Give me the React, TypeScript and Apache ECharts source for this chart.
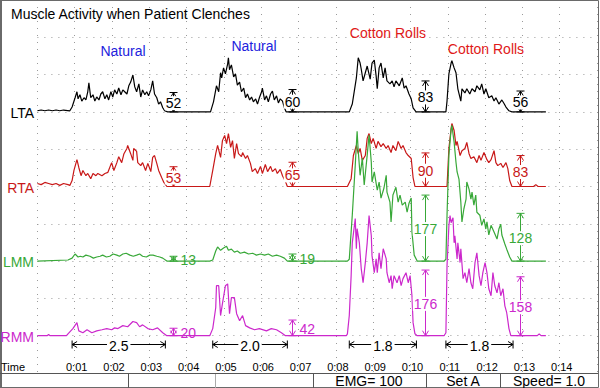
import React, { useEffect, useRef } from 'react';
import * as echarts from 'echarts';

const FONT = '"Liberation Sans", Arial, Helvetica, sans-serif';

// ---- channels ----
const channelNames = ['LTA', 'RTA', 'LMM', 'RMM'];
const channelColors = ['#000000', '#c81818', '#38a838', '#cc28cc'];
// baseline of each trace, in grid divisions counted from the bottom (1 division = 100 µV)
const channelBaseDiv = [7, 5, 3, 1];

// ---- time axis tick labels (seconds 1..14) ----
const timeTickLabels = ['0:01', '0:02', '0:03', '0:04', '0:05', '0:06', '0:07', '0:08', '0:09', '0:10', '0:11', '0:12', '0:13', '0:14'];

// ---- traces: [time s, amplitude µV] ----
const lta: number[][] = [
  [0, 3], [0.1, 5], [0.2, 3], [0.3, 5], [0.4, 3], [0.5, 5], [0.6, 3], [0.7, 5], [0.87, 3],
  [0.93, 13], [1.01, 38], [1.06, 54], [1.09, 35], [1.14, 46], [1.19, 29], [1.25, 38], [1.30, 32], [1.35, 54], [1.38, 78], [1.43, 38], [1.49, 46], [1.54, 29], [1.59, 40], [1.65, 32], [1.70, 48], [1.75, 54], [1.81, 35], [1.86, 46], [1.91, 32], [1.97, 54], [2.02, 40], [2.07, 59], [2.13, 48], [2.18, 64], [2.24, 46], [2.29, 59], [2.34, 54], [2.40, 48], [2.45, 70], [2.50, 80], [2.56, 99], [2.61, 67], [2.66, 54], [2.72, 75], [2.77, 40], [2.82, 59], [2.88, 46], [2.93, 54], [2.98, 43], [3.04, 59], [3.09, 83], [3.14, 48], [3.20, 38], [3.25, 21], [3.30, 27], [3.36, 11], [3.41, 3], [3.49, 0],
  [4.64, 0], [4.72, 27], [4.80, 70], [4.86, 54], [4.91, 105], [4.94, 91], [4.99, 118], [5.04, 102], [5.10, 129], [5.12, 145], [5.15, 113], [5.20, 126], [5.26, 94], [5.31, 102], [5.36, 72], [5.42, 80], [5.47, 54], [5.53, 64], [5.58, 38], [5.63, 48], [5.69, 32], [5.74, 40], [5.79, 27], [5.85, 35], [5.90, 21], [5.95, 38], [6.01, 54], [6.03, 64], [6.09, 32], [6.14, 43], [6.19, 27], [6.25, 48], [6.30, 56], [6.35, 32], [6.41, 43], [6.46, 24], [6.51, 35], [6.57, 29], [6.62, 11], [6.67, 0],
  [8.36, 0], [8.44, 21], [8.55, 91], [8.60, 145], [8.65, 131], [8.68, 115], [8.73, 83], [8.79, 105], [8.84, 123], [8.92, 88], [8.97, 131], [9.03, 139], [9.08, 96], [9.11, 62], [9.16, 118], [9.21, 131], [9.27, 91], [9.32, 118], [9.37, 83], [9.45, 75], [9.51, 83], [9.56, 67], [9.61, 83], [9.70, 70], [9.78, 91], [9.83, 64], [9.88, 70], [9.96, 48], [10.02, 35], [10.07, 11], [10.15, 0],
  [10.95, 0], [10.98, 29], [11.03, 102], [11.09, 131], [11.11, 137], [11.17, 118], [11.22, 105], [11.27, 62], [11.35, 29], [11.38, 62], [11.46, 51], [11.51, 62], [11.59, 48], [11.65, 62], [11.73, 54], [11.78, 70], [11.86, 59], [11.91, 75], [11.97, 48], [12.02, 62], [12.10, 38], [12.18, 43], [12.24, 29], [12.29, 38], [12.37, 21], [12.45, 32], [12.50, 24], [12.56, 13], [12.64, 3], [12.72, 0], [13.63, 0],
];

const rta: number[][] = [
  [0, 8], [0.1, 5], [0.2, 11], [0.3, 8], [0.4, 5], [0.5, 8], [0.6, 3], [0.7, 8], [0.82, 5],
  [0.87, 3], [0.93, 16], [0.98, 43], [1.06, 72], [1.11, 51], [1.17, 29], [1.22, 43], [1.30, 29], [1.35, 35], [1.43, 21], [1.49, 35], [1.57, 29], [1.62, 35], [1.73, 29], [1.81, 35], [1.89, 38], [1.99, 64], [2.05, 43], [2.13, 64], [2.18, 80], [2.26, 64], [2.32, 88], [2.40, 102], [2.42, 110], [2.50, 88], [2.56, 70], [2.58, 102], [2.66, 94], [2.69, 64], [2.77, 56], [2.82, 64], [2.90, 43], [2.96, 62], [3.04, 40], [3.09, 78], [3.14, 83], [3.20, 62], [3.25, 43], [3.33, 24], [3.39, 11], [3.47, 0],
  [4.62, 0], [4.70, 43], [4.78, 88], [4.83, 110], [4.91, 78], [4.96, 123], [5.02, 137], [5.07, 115], [5.12, 142], [5.18, 105], [5.23, 123], [5.28, 75], [5.34, 115], [5.39, 88], [5.47, 80], [5.50, 91], [5.58, 75], [5.63, 83], [5.71, 62], [5.76, 40], [5.84, 48], [5.90, 35], [5.98, 54], [6.03, 35], [6.11, 59], [6.17, 40], [6.25, 54], [6.30, 40], [6.38, 48], [6.43, 35], [6.51, 46], [6.57, 29], [6.65, 13], [6.70, 0],
  [8.31, 0], [8.41, 21], [8.47, 83], [8.55, 110], [8.60, 88], [8.65, 102], [8.71, 70], [8.79, 83], [8.84, 129], [8.89, 142], [8.95, 115], [9.00, 129], [9.08, 102], [9.13, 121], [9.21, 107], [9.27, 115], [9.35, 102], [9.40, 110], [9.48, 91], [9.53, 110], [9.61, 96], [9.67, 121], [9.75, 102], [9.80, 110], [9.88, 91], [9.94, 83], [10.02, 75], [10.07, 24], [10.12, 0],
  [10.98, 0], [11.03, 102], [11.09, 155], [11.11, 169], [11.17, 150], [11.22, 110], [11.25, 121], [11.33, 83], [11.38, 96], [11.46, 102], [11.51, 118], [11.57, 88], [11.62, 75], [11.70, 80], [11.78, 64], [11.84, 83], [11.89, 70], [11.97, 91], [12.05, 72], [12.10, 64], [12.16, 72], [12.24, 96], [12.29, 64], [12.34, 56], [12.42, 62], [12.48, 51], [12.56, 64], [12.61, 48], [12.66, 16], [12.72, 0], [13.30, 0], [13.36, 5], [13.42, 0], [13.63, 0],
];

const lmm: number[][] = [
  [0, 0], [0.82, 3], [0.93, 8], [1.01, 19], [1.09, 11], [1.15, 13], [1.22, 11], [1.30, 16], [1.41, 13], [1.50, 8], [1.59, 11], [1.68, 13], [1.75, 16], [1.85, 11], [1.94, 13], [2.03, 19], [2.13, 16], [2.20, 13], [2.29, 19], [2.38, 21], [2.48, 16], [2.57, 13], [2.66, 16], [2.74, 19], [2.82, 13], [2.92, 11], [3.01, 16], [3.10, 16], [3.20, 13], [3.28, 11], [3.36, 8], [3.47, 0],
  [4.62, 0], [4.70, 3], [4.78, 27], [4.83, 38], [4.91, 29], [4.99, 35], [5.07, 40], [5.12, 29], [5.20, 32], [5.28, 24], [5.36, 27], [5.44, 21], [5.55, 24], [5.66, 19], [5.77, 21], [5.87, 16], [5.98, 19], [6.09, 16], [6.19, 19], [6.30, 13], [6.41, 16], [6.51, 13], [6.62, 8], [6.70, 0],
  [8.31, 0], [8.36, 5], [8.44, 123], [8.52, 257], [8.57, 348], [8.60, 295], [8.65, 230], [8.71, 276], [8.76, 204], [8.84, 284], [8.89, 338], [8.95, 265], [8.97, 212], [9.03, 239], [9.11, 190], [9.16, 212], [9.21, 169], [9.29, 196], [9.35, 230], [9.37, 185], [9.45, 158], [9.48, 105], [9.53, 177], [9.61, 198], [9.67, 158], [9.72, 177], [9.78, 150], [9.86, 158], [9.91, 131], [9.96, 155], [10.02, 169], [10.04, 78], [10.10, 16], [10.18, 0],
  [10.90, 0], [10.95, 5], [10.98, 123], [11.03, 284], [11.09, 354], [11.11, 364], [11.17, 319], [11.22, 265], [11.25, 239], [11.30, 220], [11.35, 158], [11.38, 105], [11.43, 139], [11.49, 166], [11.51, 212], [11.57, 193], [11.62, 166], [11.65, 185], [11.70, 150], [11.75, 177], [11.78, 131], [11.86, 123], [11.91, 96], [11.97, 113], [12.02, 86], [12.05, 105], [12.10, 70], [12.16, 96], [12.24, 78], [12.32, 59], [12.37, 86], [12.42, 99], [12.45, 70], [12.53, 46], [12.58, 32], [12.66, 11], [12.72, 0], [13.63, 0],
];

const rmm: number[][] = [
  [0, 0], [0.26, 0], [0.30, 3], [0.34, 0], [0.78, 0], [0.82, 5], [0.95, 19], [1.06, 35], [1.11, 13], [1.22, 8], [1.33, 16], [1.46, 8], [1.59, 13], [1.73, 16], [1.86, 19], [1.99, 16], [2.07, 21], [2.16, 19], [2.29, 27], [2.42, 24], [2.56, 38], [2.66, 35], [2.74, 24], [2.82, 29], [2.96, 19], [3.09, 16], [3.22, 21], [3.36, 8], [3.47, 0],
  [4.62, 0], [4.70, 19], [4.78, 75], [4.80, 134], [4.86, 134], [4.91, 54], [4.96, 86], [5.04, 134], [5.10, 139], [5.15, 59], [5.20, 102], [5.28, 102], [5.34, 59], [5.42, 40], [5.50, 54], [5.58, 27], [5.69, 21], [5.82, 16], [5.95, 19], [6.14, 13], [6.27, 19], [6.41, 16], [6.54, 8], [6.65, 0],
  [8.28, 0], [8.31, 5], [8.36, 54], [8.41, 161], [8.44, 249], [8.52, 314], [8.55, 233], [8.57, 287], [8.63, 249], [8.68, 180], [8.73, 142], [8.79, 196], [8.84, 249], [8.89, 322], [8.95, 268], [8.97, 214], [9.03, 169], [9.08, 206], [9.11, 169], [9.16, 222], [9.21, 180], [9.27, 233], [9.35, 206], [9.37, 169], [9.43, 142], [9.48, 161], [9.51, 126], [9.56, 161], [9.64, 142], [9.70, 161], [9.75, 134], [9.80, 153], [9.88, 169], [9.94, 142], [9.99, 161], [10.04, 107], [10.07, 35], [10.12, 5], [10.18, 0],
  [10.90, 0], [10.95, 8], [10.98, 188], [11.03, 295], [11.06, 322], [11.09, 303], [11.14, 316], [11.17, 249], [11.19, 268], [11.25, 206], [11.27, 249], [11.33, 196], [11.35, 233], [11.41, 153], [11.46, 169], [11.51, 142], [11.57, 180], [11.62, 142], [11.67, 126], [11.73, 196], [11.78, 222], [11.84, 161], [11.89, 134], [11.94, 169], [12.00, 196], [12.05, 169], [12.10, 126], [12.16, 107], [12.21, 169], [12.26, 134], [12.32, 115], [12.37, 142], [12.42, 107], [12.48, 126], [12.53, 80], [12.58, 62], [12.64, 19], [12.69, 0], [13.40, 0], [13.45, 5], [13.50, 0], [13.63, 0],
];

const traces = [lta, rta, lmm, rmm];

// ---- mean amplitude markers (µV) at the end of each clench ----
const measureTimes = [3.63, 6.83, 10.38, 12.93];
const ltaMeans = [52, 60, 83, 56];
const rtaMeans = [53, 65, 90, 83];
const lmmMeans = [13, 19, 177, 128];
const rmmMeans = [20, 42, 176, 158];
const channelMeans = [ltaMeans, rtaMeans, lmmMeans, rmmMeans];

// ---- clench durations (s) ----
const durationStarts = [0.93, 4.70, 8.36, 10.95];
const durations = [2.5, 2.0, 1.8, 1.8];
const DURATION_ROW = 0.78; // height of the duration ruler, grid divisions

// ---- condition captions ----
const conditionTexts = ['Natural', 'Natural', 'Cotton Rolls', 'Cotton Rolls'];
const conditionColors = ['#2222dd', '#2222dd', '#e01818', '#e01818'];
const conditionPos = [[123, 51], [254, 46], [388, 33], [486, 49]];

// ---- status bar ----
const statusTexts = ['EMG= 100', 'Set A', 'Speed= 1.0'];
const statusCenters = [369, 463, 549];
const statusDividers = [128, 215, 313, 426, 500];

function renderMeasure(color: string) {
  return (params: any, api: any) => {
    const t = api.value(0);
    const v = api.value(1);
    const pb = api.coord([t, 0]);
    const pt = api.coord([t, v]);
    const x = Math.round(pb[0]) + 0.5;
    const yb = pb[1];
    const yt = pt[1];
    const st = { stroke: color, lineWidth: 1, fill: 'none' };
    const right = v < 50;
    const children: any[] = [
      { type: 'line', shape: { x1: x, y1: yt, x2: x, y2: yb }, style: st },
      { type: 'line', shape: { x1: x - 4, y1: yt, x2: x + 4, y2: yt }, style: st },
      { type: 'line', shape: { x1: x - 4, y1: yb, x2: x + 4, y2: yb }, style: st },
      { type: 'polyline', shape: { points: [[x - 3, yt + 5], [x, yt], [x + 3, yt + 5]] }, style: st },
      { type: 'polyline', shape: { points: [[x - 3, yb - 5], [x, yb], [x + 3, yb - 5]] }, style: st },
      {
        type: 'text',
        style: {
          text: String(v),
          x: right ? x + 6 : x,
          y: (yt + yb) / 2 + 1,
          fill: color,
          font: `14px ${FONT}`,
          align: right ? 'left' : 'center',
          verticalAlign: 'middle',
          backgroundColor: right ? 'transparent' : '#ffffff',
          padding: [0, 1],
        },
      },
    ];
    return { type: 'group', children };
  };
}

function renderDuration(params: any, api: any) {
  const s = api.value(0);
  const e = api.value(1);
  const d = api.value(2);
  const p1 = api.coord([s, DURATION_ROW]);
  const p2 = api.coord([e, DURATION_ROW]);
  const x1 = p1[0];
  const x2 = p2[0];
  const y = Math.round(p1[1]) + 0.5;
  const st = { stroke: '#000', lineWidth: 1, fill: 'none' };
  return {
    type: 'group',
    children: [
      { type: 'line', shape: { x1, y1: y, x2, y2: y }, style: st },
      { type: 'line', shape: { x1, y1: y - 4, x2: x1, y2: y + 4 }, style: st },
      { type: 'line', shape: { x1: x2, y1: y - 4, x2, y2: y + 4 }, style: st },
      { type: 'polyline', shape: { points: [[x1 + 5, y - 3], [x1, y], [x1 + 5, y + 3]] }, style: st },
      { type: 'polyline', shape: { points: [[x2 - 5, y - 3], [x2, y], [x2 - 5, y + 3]] }, style: st },
      {
        type: 'text',
        style: {
          text: d.toFixed(1),
          x: (x1 + x2) / 2,
          y: y + 1,
          fill: '#000',
          font: `14px ${FONT}`,
          align: 'center',
          verticalAlign: 'middle',
          backgroundColor: '#ffffff',
          padding: [0, 2],
        },
      },
    ],
  };
}

export default function App() {
  const ref = useRef<HTMLDivElement>(null);
  useEffect(() => {
    if (!ref.current) return;
    const chart = echarts.init(ref.current, undefined, { renderer: 'svg' });
    const dotted = { color: '#9a9a9a', width: 1, type: [1, 6] as any };

    const yAxes: any[] = [
      {
        type: 'value', min: 0, max: 10, interval: 1,
        axisLine: { show: false }, axisTick: { show: false }, axisLabel: { show: false },
        splitLine: { show: true, lineStyle: dotted },
      },
      ...channelBaseDiv.map((b) => ({
        type: 'value', show: false, min: -b * 100, max: (10 - b) * 100,
        splitLine: { show: false },
      })),
    ];

    const series: any[] = [];
    traces.forEach((data, i) => {
      series.push({
        type: 'line', name: channelNames[i], xAxisIndex: 0, yAxisIndex: i + 1,
        data, showSymbol: false, symbol: 'none', silent: true,
        lineStyle: { color: channelColors[i], width: 1.2 },
        z: 2 + i,
      });
    });
    channelMeans.forEach((means, i) => {
      series.push({
        type: 'custom', xAxisIndex: 0, yAxisIndex: i + 1, silent: true, z: 10,
        renderItem: renderMeasure(channelColors[i]),
        encode: { x: 0, y: 1 },
        data: means.map((m, k) => [measureTimes[k], m]),
      });
    });
    series.push({
      type: 'custom', xAxisIndex: 0, yAxisIndex: 0, silent: true, z: 10,
      renderItem: renderDuration,
      encode: { x: [0, 1], y: 2 },
      data: durations.map((d, k) => [durationStarts[k], durationStarts[k] + d, d]),
    });

    const graphics: any[] = [
      { type: 'rect', shape: { x: 0.5, y: 0.5, width: 598, height: 387 }, style: { fill: 'none', stroke: '#6a6a6a', lineWidth: 1 }, z: 100 },
      { type: 'line', shape: { x1: 1, y1: 0, x2: 1, y2: 388 }, style: { stroke: '#6a6a6a', lineWidth: 2 }, z: 100 },
      { type: 'line', shape: { x1: 0, y1: 373.5, x2: 598, y2: 373.5 }, style: { stroke: '#555', lineWidth: 1 }, z: 100 },
      ...statusDividers.map((x, i) => ({
        type: 'line', shape: { x1: x + 0.5, y1: 374, x2: x + 0.5, y2: 388 },
        style: { stroke: i === 1 ? '#aaaaaa' : '#555555', lineWidth: 1 }, z: 100,
      })),
      ...statusTexts.map((t, i) => ({
        type: 'text', z: 100,
        style: { text: t, x: statusCenters[i], y: 381, fill: '#000', font: `14px ${FONT}`, textAlign: 'center', textVerticalAlign: 'middle', align: 'center', verticalAlign: 'middle' },
      })),
      {
        type: 'text', z: 100,
        style: { text: 'Time', x: 1, y: 367, fill: '#000', font: `11px ${FONT}`, textAlign: 'left', textVerticalAlign: 'middle', align: 'left', verticalAlign: 'middle' },
      },
      ...channelNames.map((n, i) => ({
        type: 'text', z: 100,
        style: {
          text: n, x: 34, y: 0, fill: channelColors[i], font: `14px ${FONT}`,
          textAlign: 'right', textVerticalAlign: 'middle', align: 'right', verticalAlign: 'middle',
        },
        y: 373 - channelBaseDiv[i] * 37.3 + 1,
      })),
      ...conditionTexts.map((t, i) => ({
        type: 'text', z: 100,
        style: {
          text: t, x: conditionPos[i][0], y: conditionPos[i][1], fill: conditionColors[i], font: `14px ${FONT}`,
          textAlign: 'center', textVerticalAlign: 'middle', align: 'center', verticalAlign: 'middle',
        },
      })),
    ];

    chart.setOption({
      animation: false,
      backgroundColor: '#ffffff',
      textStyle: { fontFamily: FONT },
      title: {
        text: 'Muscle Activity when Patient Clenches',
        left: 6, top: 2,
        textStyle: { fontSize: 14, fontWeight: 'normal', color: '#000', fontFamily: FONT },
      },
      grid: { left: 37.4, top: 0, width: 561, height: 373, containLabel: false },
      xAxis: {
        type: 'value', min: 0, max: 15, interval: 1,
        axisLine: { show: false }, axisTick: { show: false },
        splitLine: { show: true, lineStyle: dotted },
        axisLabel: {
          inside: true, margin: 1, fontSize: 11, color: '#000', fontFamily: FONT,
          padding: [0, 0, 0, 4],
          formatter: (v: number) => timeTickLabels[v - 1] ?? '',
        },
      },
      yAxis: yAxes,
      series,
      graphic: { elements: graphics },
    });
    return () => chart.dispose();
  }, []);
  return <div ref={ref} style={{ position: 'absolute', left: 0, top: 0, width: 600, height: 388, background: '#fff' }} />;
}
